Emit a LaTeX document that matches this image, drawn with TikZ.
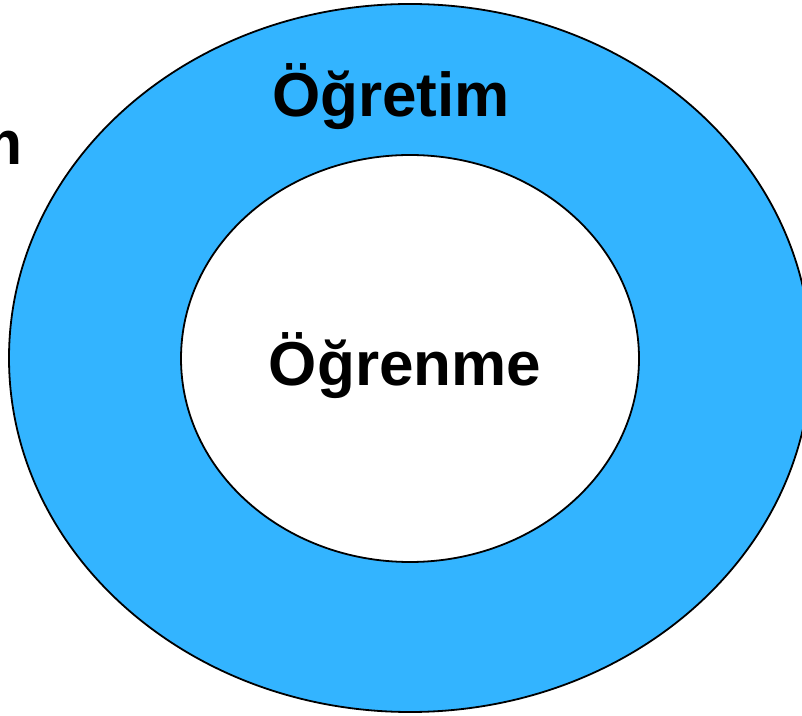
\documentclass[tikz,border=0pt]{standalone}
\usepackage{fontspec}
\setmainfont{Liberation Sans}
\definecolor{ringblue}{RGB}{51,180,255}
\tikzset{
  ring/.style={draw=black, line width=1.8pt},
  label/.style={font=\fontsize{62}{74}\selectfont\bfseries, inner sep=0pt, text=black},
}
\begin{document}
\begin{tikzpicture}[x=1pt, y=1pt]
  \useasboundingbox (0,0) rectangle (802,715);
  \clip (0,0) rectangle (802,715);
  % outer ring and inner disc
  \path[ring, fill=ringblue] (410,357) ellipse [x radius=401, y radius=354];
  \path[ring, fill=white] (410,356.5) ellipse [x radius=229, y radius=203.5];
  % labels
  \node[label, anchor=base] (teach) at (391,598) {Öğretim};
  \node[label, anchor=base] (learn) at (405,329) {Öğrenme};
  \node[label, anchor=base east] (side) at (23,550) {m};
\end{tikzpicture}
\end{document}
